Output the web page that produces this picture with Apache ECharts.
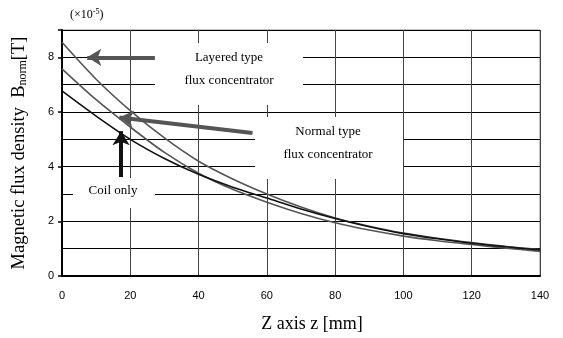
<!DOCTYPE html>
<html>
<head>
<meta charset="utf-8">
<script src="https://cdn.jsdelivr.net/npm/echarts@6/dist/echarts.min.js"></script>
<style>html,body{margin:0;padding:0;background:#fff}#c{width:563px;height:338px}</style>
</head>
<body>
<div id="c"></div>
<script>
var zValues = [0, 10, 20, 30, 40, 50, 60, 70, 80, 90, 100, 110, 120, 130, 140];
var layered = [8.55, 7.2, 6.05, 5.05, 4.2, 3.55, 3.0, 2.52, 2.12, 1.82, 1.57, 1.38, 1.22, 1.08, 0.97];
var normal  = [7.58, 6.45, 5.45, 4.52, 3.76, 3.17, 2.7, 2.29, 1.95, 1.68, 1.46, 1.29, 1.15, 1.02, 0.9];
var coil    = [6.77, 5.85, 5.0, 4.3, 3.72, 3.25, 2.85, 2.45, 2.1, 1.8, 1.55, 1.36, 1.2, 1.07, 0.95];
var xTicks = [0, 20, 40, 60, 80, 100, 120, 140];
var yTicks = [0, 2, 4, 6, 8];

function pairs(xs, ys) { return xs.map(function (x, i) { return [x, ys[i]]; }); }

var chart = echarts.init(document.getElementById('c'), null, {renderer: 'canvas'});
var serif = '"Liberation Serif", "Times New Roman", serif';
var sans = '"Liberation Sans", Arial, sans-serif';

function arrowLine(from, to, color) {
  return {
    type: 'line', data: [], silent: true, animation: false,
    markLine: {
      silent: true, animation: false,
      symbol: ['none', 'arrow'], symbolSize: [13, 14],
      label: {show: false},
      lineStyle: {color: color, width: 4, type: 'solid'},
      data: [[{coord: from}, {coord: to}]]
    }
  };
}

function txt(s, x, y) {
  return {type: 'text', z: 3, x: x, y: y,
    style: {text: s, fill: '#000', font: '13px ' + serif, textAlign: 'center', textVerticalAlign: 'middle'}};
}

var option = {
  animation: false,
  backgroundColor: '#fff',
  grid: {left: 62, right: 23, top: 30, bottom: 62, show: true, borderColor: '#888', borderWidth: 1, backgroundColor: 'transparent'},
  xAxis: {
    type: 'value', min: 0, max: 140, interval: 20,
    axisLine: {show: true, lineStyle: {color: '#000', width: 2}},
    axisTick: {show: false},
    axisLabel: {color: '#000', fontFamily: sans, fontSize: 11, margin: 14,
      formatter: function (v) { return xTicks.indexOf(v) >= 0 ? String(v) : ''; }},
    splitLine: {show: true, lineStyle: {color: '#444', width: 1}},
    name: 'Z axis z [mm]', nameLocation: 'middle', nameGap: 39,
    nameTextStyle: {color: '#000', fontFamily: serif, fontSize: 18, padding: [0, 0, 0, 22]}
  },
  yAxis: {
    type: 'value', min: 0, max: 9, interval: 2,
    axisLine: {show: true, lineStyle: {color: '#000', width: 2}},
    axisTick: {show: true, length: 4, lineStyle: {color: '#000', width: 1.5}},
    axisLabel: {color: '#000', fontFamily: sans, fontSize: 11, margin: 8,
      formatter: function (v) { return yTicks.indexOf(v) >= 0 ? String(v) : ''; }},
    splitLine: {show: true, lineStyle: {color: '#000', width: 1}},
    minorTick: {show: false, splitNumber: 2},
    minorSplitLine: {show: true, lineStyle: {color: '#000', width: 1}},
    name: 'Magnetic flux density  B{sub|norm}[T]', nameLocation: 'middle', nameGap: 33, nameRotate: 90,
    nameTextStyle: {color: '#000', fontFamily: serif, fontSize: 18.5,
      rich: {sub: {fontFamily: serif, fontSize: 12, verticalAlign: 'bottom', padding: [6, 0, 0, 0]}}}
  },
  graphic: [
    {type: 'rect', z: 1, shape: {x: 155, y: 43, width: 148, height: 62}, style: {fill: '#fff'}},
    {type: 'rect', z: 1, shape: {x: 255, y: 117, width: 148, height: 62}, style: {fill: '#fff'}},
    {type: 'rect', z: 1, shape: {x: 73, y: 178, width: 82, height: 30}, style: {fill: '#fff'}},
    txt('Layered type', 229, 58),
    txt('flux concentrator', 229, 81),
    txt('Normal type', 328, 132),
    txt('flux concentrator', 328, 155),
    txt('Coil only', 113, 191),
    {type: 'text', z: 3, x: 70, y: 15, style: {
      text: '(\u00d710{sup|-5})', fill: '#000', font: '12px ' + serif, textVerticalAlign: 'middle',
      rich: {sup: {fontFamily: serif, fontSize: 8, verticalAlign: 'top', padding: [0, 0, 6, 0]}}}}
  ],
  series: [
    {name: 'Layered', type: 'line', data: pairs(zValues, layered), smooth: 0.3, showSymbol: false, z: 5,
      lineStyle: {color: '#555', width: 1.6}},
    {name: 'Normal', type: 'line', data: pairs(zValues, normal), smooth: 0.3, showSymbol: false, z: 5,
      lineStyle: {color: '#555', width: 1.6}},
    {name: 'Coil', type: 'line', data: pairs(zValues, coil), smooth: 0.3, showSymbol: false, z: 5,
      lineStyle: {color: '#111', width: 1.6}},
    arrowLine([27.2, 8.0], [7.4, 8.0], '#555'),
    arrowLine([55.8, 5.23], [16.8, 5.8], '#555'),
    arrowLine([17.3, 3.62], [17.3, 5.3], '#111')
  ]
};
chart.setOption(option);
</script>
</body>
</html>
